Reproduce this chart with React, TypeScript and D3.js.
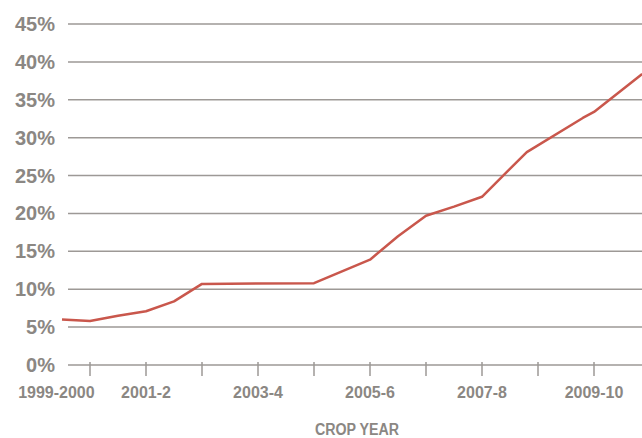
import * as d3 from 'd3';

// crop-year index: 0 = 1999-2000, 1 = 2000-1, ...
const seriesT = [0.5, 1, 1.5, 2, 2.5, 3, 5, 6, 6.5, 7, 7.5, 8, 8.8, 9.8, 10, 10.86];
const seriesV = [6.0, 5.8, 6.5, 7.1, 8.4, 10.7, 10.8, 13.9, 17.0, 19.7, 20.9, 22.2, 28.1, 32.6, 33.4, 38.4];

const yTicks = [0, 5, 10, 15, 20, 25, 30, 35, 40, 45];
const xTicks = [1, 2, 3, 4, 5, 6, 7, 8, 9, 10];
const xLabels = ['1999-2000', '2001-2', '2003-4', '2005-6', '2007-8', '2009-10'];
const xLabelT = [0.4, 2, 4, 6, 8, 10];

const W = 642;
const H = 438;
const gray = '#8b8783';
const gridColor = '#9d9996';
const font = '"Liberation Sans", Arial, sans-serif';

export default function App() {
  const x = d3.scaleLinear().domain([0, 1]).range([34, 90]);
  const y = d3.scaleLinear().domain([0, 45]).range([365, 24]);

  const data = seriesT.map((t, i) => ({ t, v: seriesV[i] }));
  const line = d3.line<{ t: number; v: number }>()
    .x(d => x(d.t))
    .y(d => y(d.v));

  return (
    <svg width={W} height={H} style={{ position: 'absolute', left: 0, top: 0, background: '#fff' }}>
      {/* grid */}
      {yTicks.map(v => (
        <g key={v}>
          <line x1={68} x2={W} y1={y(v)} y2={y(v)} stroke={gridColor} strokeWidth={1.5} />
          <text x={55} y={y(v)} dy="0.35em" textAnchor="end" fontFamily={font}
            fontWeight="bold" fontSize={20} fill={gray}>{v}%</text>
        </g>
      ))}
      {/* x ticks */}
      {xTicks.map(t => (
        <line key={t} x1={x(t)} x2={x(t)} y1={362} y2={376} stroke={gridColor} strokeWidth={1.5} />
      ))}
      {xLabels.map((l, i) => (
        <text key={l} x={x(xLabelT[i])} y={398} textAnchor="middle" fontFamily={font}
          fontWeight="bold" fontSize={16} fill={gray}>{l}</text>
      ))}
      <text x={357} y={435} textAnchor="middle" fontFamily={font} fontWeight="bold"
        fontSize={16} fill={gray} textLength={84} lengthAdjust="spacingAndGlyphs">CROP YEAR</text>
      <path d={line(data) || ''} fill="none" stroke="#c9574c" strokeWidth={2.5}
        strokeLinejoin="round" />
    </svg>
  );
}
